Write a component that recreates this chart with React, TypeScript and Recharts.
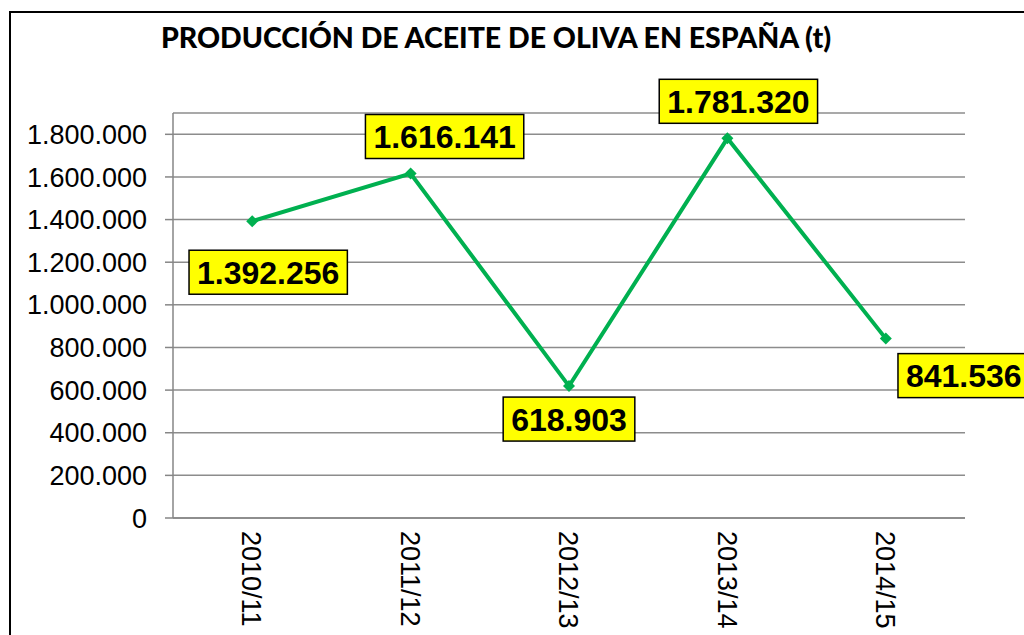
import React from "react";
import {
  LineChart,
  Line,
  XAxis,
  YAxis,
  CartesianGrid,
  LabelList,
} from "recharts";

const campaigns = ["2010/11", "2011/12", "2012/13", "2013/14", "2014/15"];
const production = [1392256, 1616141, 618903, 1781320, 841536];
const yTicks = [0, 200000, 400000, 600000, 800000, 1000000, 1200000, 1400000, 1600000, 1800000];
const boundaryTicks = [0, 1, 2, 3, 4, 5];

// where each value box sits relative to its point (center offset)
const labelOffsets = [
  { dx: 16, dy: 51 },
  { dx: 34, dy: -37 },
  { dx: 0, dy: 33 },
  { dx: 11, dy: -37 },
  { dx: 78, dy: 37 },
];

const chartData = campaigns.map((c, i) => ({ cat: c, value: production[i] }));

const fmt = (v: number) => v.toLocaleString("de-DE");

const ValueBox = (props: any) => {
  const { x, y, value, index } = props;
  const off = labelOffsets[index] || { dx: 0, dy: 0 };
  const text = fmt(value);
  const digits = text.replace(/\./g, "").length;
  const dots = text.length - digits;
  const w = (digits * 0.556 + dots * 0.278) * 32 + 16;
  const h = 44;
  const cx = x + off.dx;
  const cy = y + off.dy;
  return (
    <g>
      <rect
        x={cx - w / 2}
        y={cy - h / 2}
        width={w}
        height={h}
        fill="#FFFF00"
        stroke="#000"
        strokeWidth={1.5}
      />
      <text
        x={cx}
        y={cy}
        dy="0.36em"
        textAnchor="middle"
        fontFamily="'Liberation Sans', Arial, sans-serif"
        fontWeight="bold"
        fontSize={32}
        fill="#000"
      >
        {text}
      </text>
    </g>
  );
};

const CatTick = (props: any) => {
  const { x, y, payload } = props;
  return (
    <g transform={`translate(${x},${y + 5}) rotate(90)`}>
      <text
        x={0}
        y={0}
        dy="0.36em"
        textAnchor="start"
        fontFamily="'Liberation Sans', Arial, sans-serif"
        fontSize={27}
        fill="#000"
      >
        {payload.value}
      </text>
    </g>
  );
};

export default function App() {
  return (
    <div
      style={{
        position: "absolute",
        left: 0,
        top: 0,
        width: 1024,
        height: 635,
        overflow: "hidden",
        background: "#fff",
      }}
    >
      <div
        style={{
          position: "absolute",
          left: 9,
          top: 11,
          width: 1040,
          height: 660,
          border: "2px solid #000",
        }}
      />
      <div
        style={{
          position: "absolute",
          left: 0,
          width: 992,
          top: 20,
          textAlign: "center",
          fontFamily: "Lato, 'Open Sans', sans-serif",
          fontWeight: 900,
          fontSize: 28.5,
          color: "#000",
        }}
      >
        PRODUCCIÓN DE ACEITE DE OLIVA EN ESPAÑA (t)
      </div>
      <div style={{ position: "absolute", left: 0, top: 0 }}>
        <LineChart
          width={1024}
          height={635}
          data={chartData}
          margin={{ top: 113, right: 59, bottom: 0, left: 13 }}
        >
          <CartesianGrid
            vertical={false}
            stroke="#8c8c8c"
            strokeWidth={1.5}
          />
          <XAxis
            xAxisId="edges"
            type="number"
            domain={[0, 5]}
            ticks={boundaryTicks}
            tick={false}
            tickSize={6}
            axisLine={false}
            tickLine={{ stroke: "#868686", strokeWidth: 1.5 }}
            height={0}
          />
          <XAxis
            dataKey="cat"
            scale="band"
            height={117}
            tickLine={false}
            axisLine={{ stroke: "#868686", strokeWidth: 1.5 }}
            tick={<CatTick />}
            interval={0}
          />
          <YAxis
            width={160}
            domain={[0, 1900000]}
            ticks={yTicks}
            tickFormatter={fmt}
            tickSize={8}
            tickMargin={18}
            axisLine={{ stroke: "#868686", strokeWidth: 1.5 }}
            tickLine={{ stroke: "#868686", strokeWidth: 1.5 }}
            tick={{
              fill: "#000",
              fontSize: 27,
              fontFamily: "'Liberation Sans', Arial, sans-serif",
            }}
            allowDataOverflow
          />
          <Line
            dataKey="value"
            stroke="#00B050"
            strokeWidth={4}
            dot={(p: any) => (
              <path
                key={p.index}
                d={`M${p.cx},${p.cy - 6} L${p.cx + 6},${p.cy} L${p.cx},${p.cy + 6} L${p.cx - 6},${p.cy} Z`}
                fill="#00B050"
              />
            )}
            isAnimationActive={false}
          >
            <LabelList dataKey="value" content={<ValueBox />} />
          </Line>
        </LineChart>
      </div>
    </div>
  );
}
